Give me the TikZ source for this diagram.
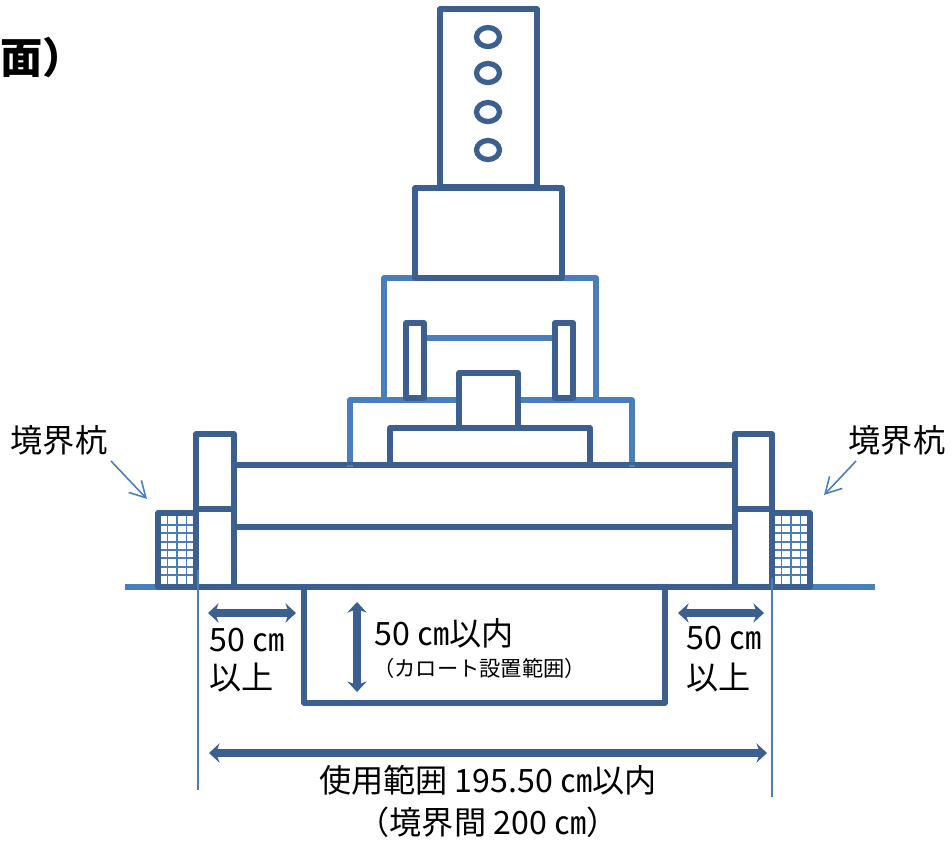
\documentclass[tikz,border=0pt]{standalone}
\usepackage{fontspec}
\setmainfont{Noto Sans CJK JP}
\usetikzlibrary{arrows.meta}
\definecolor{darkline}{HTML}{3B5F8E}
\definecolor{lightline}{HTML}{4A7EBB}
\tikzset{
  darkpart/.style={draw=darkline,line width=3pt,line join=round,fill=white},
  lightpart/.style={draw=lightline,line width=3pt,line join=round},
  thinline/.style={draw=lightline,line width=1pt},
  gridline/.style={draw=lightline,line width=1pt},
  sizearrow/.style={draw=darkline,line width=4.3pt,{Stealth[length=6pt,width=11pt]}-{Stealth[length=6pt,width=11pt]}},
  pointer/.style={draw=lightline,line width=0.9pt,-{Straight Barb[length=9pt,width=10pt]}},
  bigtext/.style={font=\fontsize{18.3}{20}\selectfont,inner sep=0pt,text=black},
  smalltext/.style={font=\fontsize{12.1}{14}\selectfont,inner sep=0pt,text=black}
}
\begin{document}
\begin{tikzpicture}[x=0.02cm,y=-0.02cm]
            \useasboundingbox (0,0) rectangle (952,843);
            \node[font=\fontsize{24}{26}\selectfont\bfseries,anchor=east,inner sep=0pt] (title) at (85,57) {面）};
            % ground and light parts
            \draw[lightpart] (125,587) -- (875,587);
            \draw[lightpart] (384,400) |- (596,278) -- (596,400);
            \draw[lightpart] (350,465) |- (632,400) -- (632,465);
            \draw[lightpart] (424,338) -- (555,338);
            % stone
            \draw[darkpart] (440,9) rectangle (537,187);
            \foreach \y in {37,73,112,150}{
            \draw[darkpart] (488,\y) ellipse (11.5 and 9.5);
            }
            \draw[darkpart] (415,188) rectangle (562,278);
            \draw[darkpart] (406,323) rectangle (424,398);
            \draw[darkpart] (555,323) rectangle (573,398);
            \draw[darkpart] (459,373) rectangle (518,428);
            \draw[darkpart] (390,428) rectangle (590,465);
            % base
            \draw[darkpart,fill=none] (234,465) -- (735,465);
            \draw[darkpart,fill=none] (234,527) -- (735,527);
            \draw[lightpart] (350,465) -- (350,467);
            \draw[lightpart] (632,465) -- (632,467);
            \draw[darkpart] (196,434) rectangle (234,587);
            \draw[darkpart] (196,509) -- (234,509);
            \draw[darkpart] (735,434) rectangle (772,587);
            \draw[darkpart] (735,509) -- (772,509);
            % boundary posts
            \foreach \xa/\xb in {158/196,772/810}{
            \foreach \n in {1,2,3}{
            \draw[gridline] (\xa+9.5*\n,513) -- (\xa+9.5*\n,585);
            }
            \foreach \y in {525,533,542,550,558,567,575}{
            \draw[gridline] (\xa,\y) -- (\xb,\y);
            }
            \draw[darkpart,fill=none] (\xa,513) rectangle (\xb,587);
            }
            \draw[darkpart] (304,587) rectangle (665,703);
            \draw[darkpart,fill=none] (158,587) -- (811,587);
            % limits
            \draw[thinline] (198,570) -- (198,790);
            \draw[thinline] (772,578) -- (772,797);
            % sizes
            \draw[sizearrow] (208,613) -- (296,613);
            \draw[sizearrow] (678,613) -- (764,613);
            \draw[sizearrow] (357,602) -- (357,692);
            \draw[sizearrow] (209,753) -- (767,753);
            % labels
            \node[bigtext] (postleft) at (59,440) {境界杭};
            \node[bigtext] (postright) at (897,440) {境界杭};
            \coordinate (tipleft) at (147,499);
            \coordinate (tipright) at (824,495);
            \draw[pointer] (111,461) -- (tipleft);
            \draw[pointer] (856,461) -- (tipright);
            \node[bigtext,anchor=west] (sizeleft) at (209,640) {50 ㎝};
            \node[bigtext,anchor=west] (moreleft) at (209,678) {以上};
            \node[bigtext,anchor=west] (sizeright) at (686,638) {50 ㎝};
            \node[bigtext,anchor=west] (moreright) at (686,678) {以上};
            \node[bigtext,anchor=west] (depth) at (374,633) {50 ㎝以内};
            \node[smalltext,anchor=west] (carrot) at (373,668) {（カロート設置範囲）};
            \node[bigtext] (range) at (488,780) {使用範囲 195.50 ㎝以内};
            \node[bigtext] (between) at (488,822) {（境界間 200 ㎝）};
        \end{tikzpicture}
\end{document}
